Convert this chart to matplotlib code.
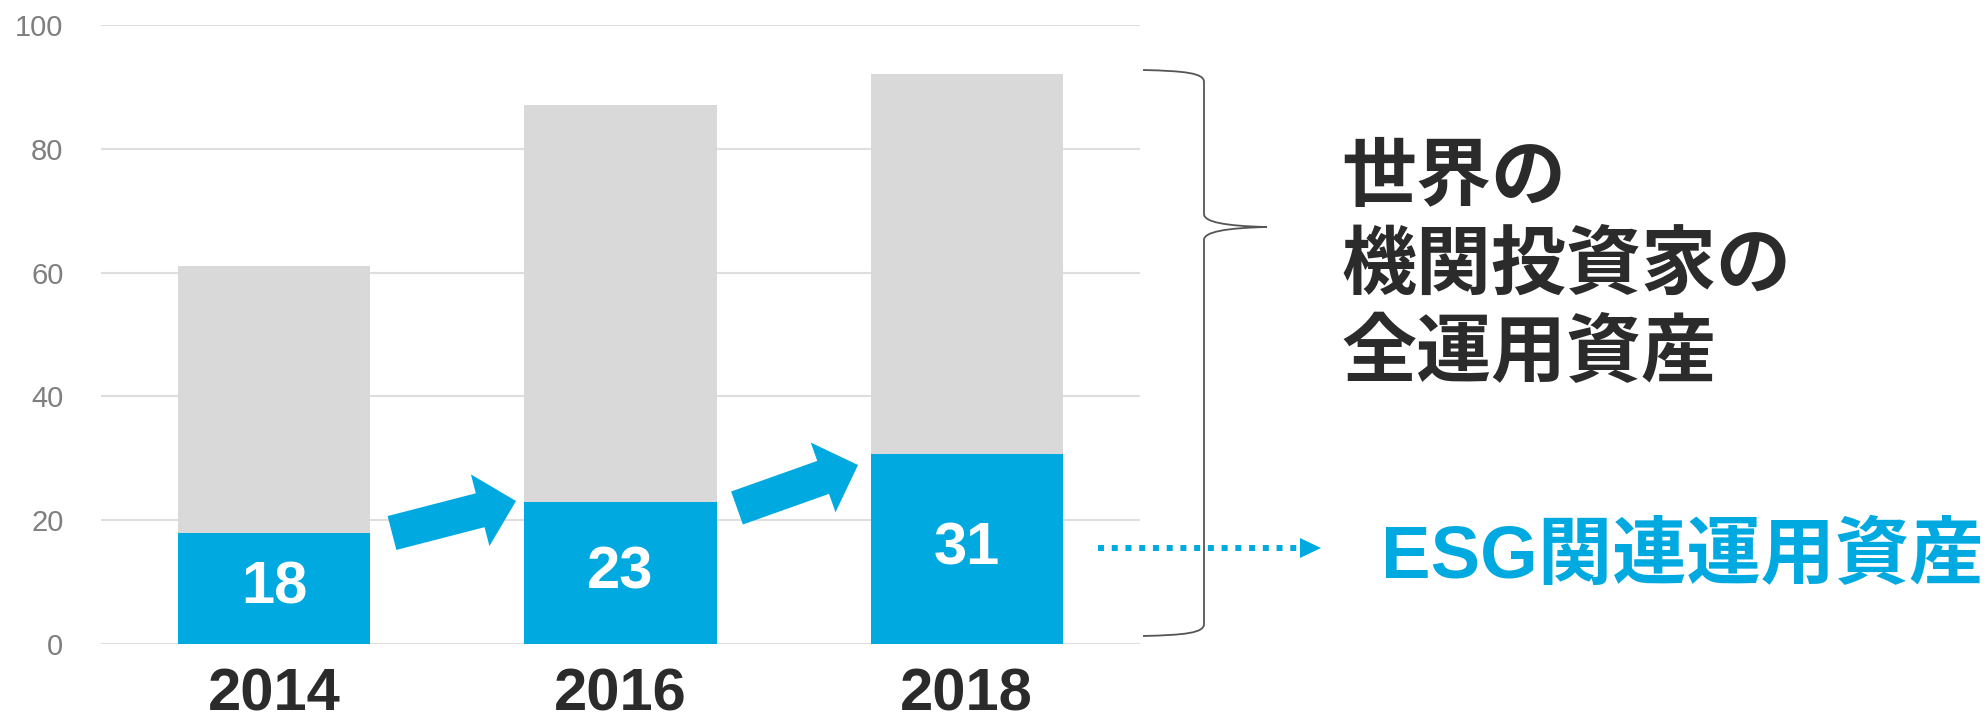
import matplotlib
matplotlib.use("Agg")
import matplotlib.pyplot as plt
from matplotlib.path import Path
from matplotlib.patches import PathPatch, FancyArrow, Polygon

plt.rcParams['font.family'] = ['Liberation Sans', 'Noto Sans CJK JP', 'DejaVu Sans']

# data
years = ['2014', '2016', '2018']
total_assets = [61, 87, 92]
esg_assets = [18, 23, 30.7]
esg_labels = ['18', '23', '31']
yticks = [0, 20, 40, 60, 80, 100]

blue = '#00a9e0'
gray_bar = '#d9d9d9'
dark = '#2b2b2b'

fig = plt.figure(figsize=(19.87, 7.24), dpi=100)
ax = fig.add_axes([0.0508, 0.1105, 0.5229, 0.855])

x = range(len(years))
rest = [t - e for t, e in zip(total_assets, esg_assets)]
ax.bar(x, esg_assets, width=0.555, color=blue, zorder=2)
ax.bar(x, rest, bottom=esg_assets, width=0.555, color=gray_bar, zorder=2)

for i, (v, lab) in enumerate(zip(esg_assets, esg_labels)):
    ax.text(i, v / 2, lab, ha='center', va='center', color='white',
            fontsize=43, fontweight='bold')

ax.set_xlim(-0.5, 2.5)
ax.set_ylim(0, 100)
ax.set_yticks(yticks)
ax.set_xticks(list(x))
ax.set_xticklabels(years, fontsize=43, fontweight='bold', color=dark)
ax.tick_params(axis='y', length=0, pad=27, labelsize=21, labelcolor='#7f7f7f')
ax.tick_params(axis='x', length=0, pad=17)
ax.grid(axis='y', color='#dedede', linewidth=1.5, zorder=0)
for s in ax.spines.values():
    s.set_visible(False)

# overlay in pixel coordinates for the decorations
ov = fig.add_axes([0, 0, 1, 1], zorder=5)
ov.set_xlim(0, 1987)
ov.set_ylim(724, 0)
ov.axis('off')
ov.patch.set_alpha(0)

# growth arrows
ov.add_patch(FancyArrow(392, 533, 124, -32, width=35, head_width=74,
                        head_length=37, length_includes_head=True,
                        color=blue, lw=0))
ov.add_patch(FancyArrow(737, 508, 121, -43, width=35, head_width=74,
                        head_length=37, length_includes_head=True,
                        color=blue, lw=0))

# brace
verts = [(1143, 70), (1185, 71), (1204, 73), (1204, 82),
         (1204, 214),
         (1204, 222), (1225, 226), (1267, 227),
         (1225, 228), (1204, 232), (1204, 240),
         (1204, 624),
         (1204, 633), (1185, 635), (1143, 636)]
codes = [Path.MOVETO, Path.CURVE4, Path.CURVE4, Path.CURVE4,
         Path.LINETO,
         Path.CURVE4, Path.CURVE4, Path.CURVE4,
         Path.CURVE4, Path.CURVE4, Path.CURVE4,
         Path.LINETO,
         Path.CURVE4, Path.CURVE4, Path.CURVE4]
ov.add_patch(PathPatch(Path(verts, codes), fill=False, edgecolor='#555555', lw=1.3))

# dotted arrow to the ESG label
ov.plot([1098, 1302], [548, 548], color=blue, lw=4.3,
        linestyle=(0, (1, 1.3)), dash_capstyle='butt')
ov.add_patch(Polygon([(1300, 538), (1300, 558), (1321, 548)], closed=True,
                     color=blue, lw=0))

fig.text(0.675, 0.633, '世界の\n機関投資家の\n全運用資産', ha='left', va='center',
         fontsize=54, fontweight='bold', color=dark, linespacing=1.2,
         family=['Noto Sans CJK JP'])
fig.text(0.695, 0.229, 'ESG関連運用資産', ha='left', va='center',
         fontsize=53.5, fontweight='bold', color=blue,
         family=['Liberation Sans', 'Noto Sans CJK JP'])

fig.savefig('out.png', dpi=100)
